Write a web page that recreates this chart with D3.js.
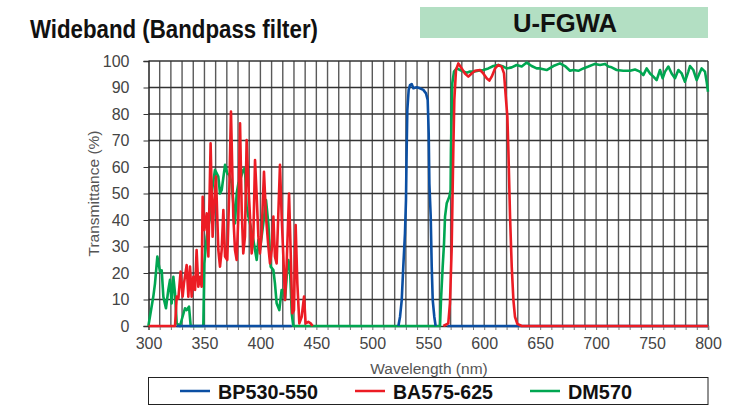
<!DOCTYPE html>
<html>
<head>
<meta charset="utf-8">
<script src="https://cdn.jsdelivr.net/npm/d3@7"></script>
<style>
	body { margin: 0; background: #fff; }
	.tick text { font-family: "Liberation Sans", Arial, sans-serif; fill: #444; }
	.cond { font-family: "Liberation Sans", Arial, sans-serif; font-weight: bold; fill: #111; }
</style>
</head>
<body>
<script>
// series: [wavelength (nm), transmittance (%)], null = no data
var bp530 = [
	[325,0],[428,0],[430,null],
	[523.3,0],[524.8,3.5],[526.3,9.8],[527.7,22.4],[529.2,35],[530.1,47.5],[530.7,66.4],[531.3,81.5],
	[532.5,89.1],[533.7,90.9],[535.2,91.3],[536.7,89.7],[539.7,90.1],[542.6,89.7],[545.6,89.1],[548,87.8],
	[549.5,85.3],[550.4,72.7],[551,53.8],[552.2,41.3],[553.1,22.4],[554,9.8],[555.4,3.5],[556.6,0],
	[560,null],[567,0],[800,0]
];

var ba575 = [
	[300,0],[323.7,0],[325.2,11.1],[326.7,10.4],[328.7,20.5],[330.5,11.1],[331.7,16.1],[334.1,23],[335.6,11.1],
	[337.1,22.4],[338.6,11.1],[340.1,18.6],[341.6,13.6],[343,28.7],[344.5,14.8],[346,18.6],[347.5,14.8],
	[348.4,48.8],[349.9,36.2],[352,42.5],[353.5,26.2],[355.5,68.9],[357.3,33.7],[358.5,45],[360.3,56.4],
	[362.4,28.7],[363.9,22.4],[365.4,28.7],[366.9,43.8],[368.4,26.2],[370.4,24.9],[372.2,51.3],[373.7,80.9],
	[375.8,41.3],[377.3,28.7],[378.8,24.9],[380.3,41.3],[381.8,76.5],[383.3,43.8],[384.7,27.4],[386.2,33.7],
	[387.7,70.2],[389.2,53.8],[390.7,41.3],[392.2,27.4],[393.7,33.7],[395.2,62.6],[396.7,48.8],[398.2,33.7],
	[399.6,27.4],[401.1,35],[403.2,58.2],[405,41.3],[407.1,30],[408.6,23.6],[410.1,28.7],[411.6,41.3],
	[413,26.2],[414.5,23.6],[417.5,60.8],[419,41.3],[420.5,26.2],[422,9.8],[423.5,23.6],[425.6,50],
	[427,28.7],[428.5,4.8],[430,6],[431.5,38.1],[433,16.1],[434.8,1],[436.9,3.5],[439,11.1],[440.4,1],
	[442.8,1.6],[444.9,1],[446.7,0],[450,null],
	[563.5,0],[567.9,1],[569.4,8.6],[570.9,28.7],[572.4,66.4],[573.3,85.3],[574.8,96.6],[576.9,99.1],
	[579.9,97.2],[582.8,95.3],[585.8,94.1],[588.8,95.3],[591.8,96.3],[596.3,96.6],[599.2,95.3],[602.2,93.5],
	[604.6,92.6],[606.7,94.1],[609.7,97.2],[612.6,98.5],[615.6,97.9],[617.7,95.3],[619.5,85.3],[620.7,79],
	[621.6,66.4],[623.1,41.3],[624.6,22.4],[626.1,9.8],[627.5,3.5],[629.6,0.8],[633.5,0],[800,0]
];

var dm570 = [
	[299.9,0],[304.3,11.1],[305.8,16],[307.9,26.2],[310.3,20.5],[311.8,21],[313.3,11],[315.6,6.7],[317.7,13.6],
	[319.2,17.4],[320.7,8.5],[322.2,18.6],[323.7,12.3],[325.2,1],[328.1,0],[332.6,6.7],[334.1,6],[336.2,7.3],
	[337.7,0],[349,0],[349.9,23.6],[352,33.7],[355,41.3],[356.4,50],[359.4,58.9],[362.4,56.4],[363.9,50],
	[365.4,51.3],[368.4,60.8],[370.4,57.6],[372.2,57],[374.3,53.8],[375.8,46.3],[377.3,38.7],[378.8,50],
	[380.3,53.8],[381.8,55.1],[384.7,58.9],[386.2,59.5],[387.7,45],[389.2,41.3],[390.7,38.7],[393.7,32.5],
	[395.2,28.7],[396.7,24.9],[398.2,32.5],[399.6,28.7],[402.6,38.7],[405,47.5],[407.1,38.7],[409.2,22.4],
	[411.6,21.1],[413,16.1],[414.5,8.6],[416.9,6],[419,13.6],[420.5,13.6],[422,9.8],[423.5,18.6],[425,24.9],
	[426.5,21.1],[428,4.8],[429.4,0],[560.5,0],[561.4,9.8],[562.9,22.4],[564.1,31.2],[565,41.3],[566.5,46.3],
	[568.8,48.8],[570,51.3],[570.3,66.4],[570.9,79],[571.5,91.6],[573,96],[575.4,97.2],[578.4,96.6],[581.4,96],
	[584.3,95.6],[587.3,96],[590.3,96],[594.8,96.3],[599.2,96.6],[603.7,97.2],[608.2,98.1],[612.6,98.5],
	[617.1,97.9],[620.1,97.2],[624.6,97.6],[629,98.5],[633.5,97.9],[638,99.4],[642.4,98.1],[646.9,97.2],
	[649.9,97.2],[655.8,96.6],[661.8,98.1],[667.7,99.1],[672.2,98.1],[676.7,96.3],[679.7,96.6],[684.1,96.3],
	[688.6,97.2],[693.1,97.9],[699,98.9],[703.5,98.5],[708,98.9],[711,97.9],[713.9,97.6],[718.4,96.6],
	[724.3,96.3],[730.3,96.3],[734.8,96.8],[739.2,96],[742.2,94.7],[745.2,97.2],[748.2,95.3],[751.2,94.1],
	[754.1,92.8],[757.1,96.6],[759.5,93.5],[761.6,96],[764.6,97.9],[767.5,95.3],[770.5,93.5],[773.5,96.6],
	[776.5,95.3],[779.4,92.2],[782.4,96],[783.9,98.1],[786.9,96.6],[789.9,92.8],[792.3,95.3],[794.3,97.2],
	[797.3,96],[798.8,92.2],[800,88.4]
];

var xTicks = [300, 350, 400, 450, 500, 550, 600, 650, 700, 750, 800];
var yTicks = [0, 10, 20, 30, 40, 50, 60, 70, 80, 90, 100];
var seriesNames = ["BP530-550", "BA575-625", "DM570"];
var seriesColors = ["#0b4fa3", "#ec1c24", "#00a651"];

var w = 731, h = 414;
var padL = 148.5, padR = 708, padT = 61, padB = 326;

var svg = d3.select("body").append("svg")
	.attr("width", w)
	.attr("height", h);

var x = d3.scaleLinear().domain([300, 800]).range([padL, padR]);
var y = d3.scaleLinear().domain([0, 100]).range([padB, padT]);

// title + header box
svg.append("text")
	.attr("class", "cond")
	.attr("x", 30)
	.attr("y", 38)
	.attr("textLength", 288)
	.attr("lengthAdjust", "spacingAndGlyphs")
	.style("font-size", "25px")
	.text("Wideband (Bandpass filter)");

svg.append("rect")
	.attr("x", 420).attr("y", 7)
	.attr("width", 288).attr("height", 31)
	.style("fill", "#b3dfc3");

svg.append("text")
	.attr("class", "cond")
	.attr("x", 513)
	.attr("y", 32)
	.attr("textLength", 104)
	.attr("lengthAdjust", "spacingAndGlyphs")
	.style("font-size", "25px")
	.text("U-FGWA");

// grid
svg.append("g").selectAll("line")
	.data(d3.range(310, 800, 10))
	.enter().append("line")
	.attr("x1", function(d){ return x(d); })
	.attr("x2", function(d){ return x(d); })
	.attr("y1", padT).attr("y2", padB)
	.style("stroke", "#5a5a5a")
	.style("stroke-width", 1.4);

svg.append("g").selectAll("line")
	.data(d3.range(10, 101, 10))
	.enter().append("line")
	.attr("x1", padL).attr("x2", padR)
	.attr("y1", function(d){ return y(d); })
	.attr("y2", function(d){ return y(d); })
	.style("stroke", "#333")
	.style("stroke-width", 1.4);

svg.append("line")
	.attr("x1", padR).attr("x2", padR)
	.attr("y1", padT).attr("y2", padB)
	.style("stroke", "#333").style("stroke-width", 1.4);

// axes
var xAxis = d3.axisBottom(x)
	.tickValues(d3.range(300, 801, 10))
	.tickSize(4)
	.tickPadding(8)
	.tickFormat(function(d){ return xTicks.indexOf(d) >= 0 ? d : ""; });

var gx = svg.append("g")
	.attr("transform", "translate(0," + padB + ")")
	.call(xAxis);
gx.select(".domain").style("stroke", "#333").style("stroke-width", 1.4);
gx.selectAll(".tick line").style("stroke", "#777");
gx.selectAll(".tick text").style("font-size", "16px");

var yAxis = d3.axisLeft(y)
	.tickValues(yTicks)
	.tickSize(5)
	.tickPadding(14);

var gy = svg.append("g")
	.attr("transform", "translate(" + padL + ",0)")
	.call(yAxis);
gy.select(".domain").style("stroke", "#222").style("stroke-width", 1.5);
gy.selectAll(".tick line").style("stroke", "#333");
gy.selectAll(".tick text").style("font-size", "16px");

svg.append("text")
	.attr("x", 429)
	.attr("y", 374)
	.attr("text-anchor", "middle")
	.style("font-family", "Liberation Sans, Arial, sans-serif")
	.style("font-size", "15.5px")
	.style("fill", "#555")
	.text("Wavelength (nm)");

svg.append("text")
	.attr("transform", "translate(99," + ((padT + padB) / 2) + ") rotate(-90)")
	.attr("text-anchor", "middle")
	.style("font-family", "Liberation Sans, Arial, sans-serif")
	.style("font-size", "15.5px")
	.style("fill", "#555")
	.text("Transmittance (%)");

// spectra
var line = d3.line()
	.defined(function(d){ return d[1] !== null; })
	.x(function(d){ return x(d[0]); })
	.y(function(d){ return y(d[1]); });

var plot = svg.append("g");
[[dm570, 2], [bp530, 0], [ba575, 1]].forEach(function(s){
	plot.append("path")
		.datum(s[0])
		.attr("d", line)
		.style("fill", "none")
		.style("stroke", seriesColors[s[1]])
		.style("stroke-width", 2.6)
		.style("stroke-linejoin", "round");
});

// legend
svg.append("rect")
	.attr("x", 148.5).attr("y", 377.5)
	.attr("width", 559.5).attr("height", 27)
	.style("fill", "#fff")
	.style("stroke", "#222")
	.style("stroke-width", 1);

var legX = [180, 355, 530];
var legW = [100, 100, 64];
var leg = svg.selectAll(".leg")
	.data(seriesNames)
	.enter().append("g")
	.attr("class", "leg")
	.attr("transform", function(d, i){ return "translate(" + legX[i] + ",391)"; });

leg.append("line")
	.attr("x1", 0).attr("x2", 30)
	.style("stroke", function(d, i){ return seriesColors[i]; })
	.style("stroke-width", 2.5);

leg.append("text")
	.attr("class", "cond")
	.attr("x", 38)
	.attr("y", 8)
	.attr("textLength", function(d, i){ return legW[i]; })
	.attr("lengthAdjust", "spacingAndGlyphs")
	.style("font-size", "21px")
	.text(function(d){ return d; });
</script>
</body>
</html>
